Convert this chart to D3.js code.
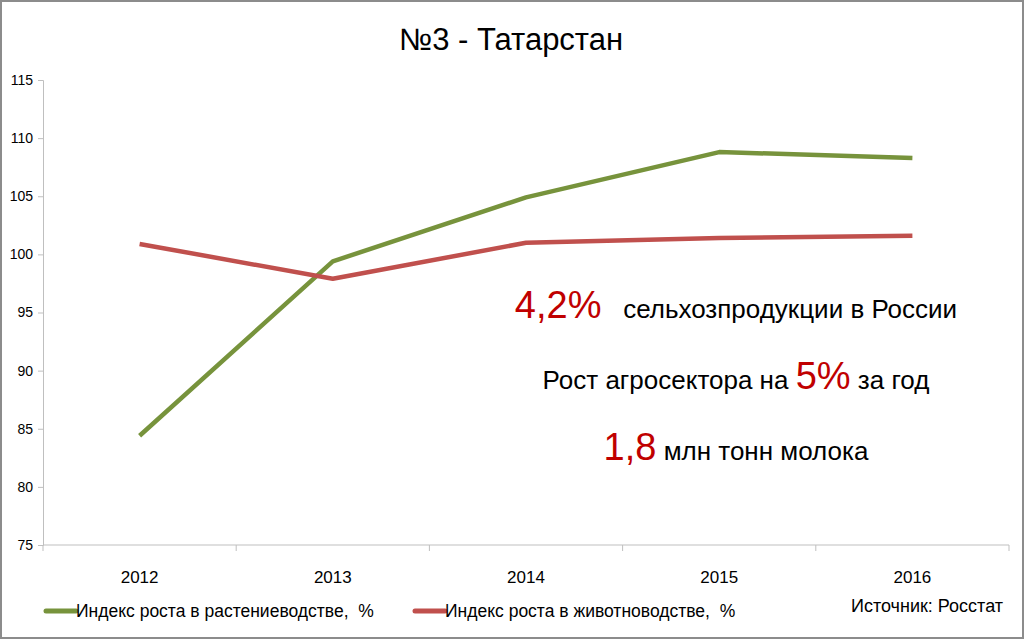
<!DOCTYPE html>
<html><head><meta charset="utf-8">
<script src="https://cdn.jsdelivr.net/npm/d3@7"></script>
<style>
html,body{margin:0;padding:0;background:#fff;}
svg{display:block;font-family:"Liberation Sans",Arial,sans-serif;}
text{white-space:pre;}
</style></head>
<body>
<svg id="chart" width="1024" height="639"></svg>
<script>
const years = ["2012","2013","2014","2015","2016"];
const plantIndex = [84.4, 99.4, 104.9, 108.8, 108.3];
const livestockIndex = [100.9, 97.9, 101.0, 101.4, 101.6];
const yTicks = [75, 80, 85, 90, 95, 100, 105, 110, 115];
const seriesNames = ["Индекс роста в растениеводстве,  %", "Индекс роста в животноводстве,  %"];
const title = "№3 - Татарстан";
const source = "Источник: Росстат";

const svg = d3.select("#chart");
const W = 1024, H = 639;
const L = 43, R = 1009, T = 80, B = 545;
const green = "#77933C", red = "#C0504D", darkRed = "#C00000";
const axisColor = "#BFBFBF";

svg.append("rect").attr("x",1).attr("y",1).attr("width",W-2).attr("height",H-2)
  .attr("fill","#fff").attr("stroke","#8c8c8c").attr("stroke-width",2);

svg.append("text").attr("x",511).attr("y",50).attr("text-anchor","middle")
  .attr("font-size",31).attr("fill","#000").text(title);

const x = d3.scaleBand().domain(years).range([L,R]).padding(0);
const y = d3.scaleLinear().domain([75,115]).range([B,T]);

// y axis
const yAxis = d3.axisLeft(y).tickValues(yTicks).tickSize(5).tickPadding(5);
const gy = svg.append("g").attr("transform",`translate(${L},0)`).call(yAxis);
gy.select(".domain").attr("stroke",axisColor);
gy.selectAll(".tick line").attr("stroke",axisColor);
gy.selectAll(".tick text").attr("font-size",14).attr("fill","#000")
  .attr("font-family","Liberation Sans, Arial, sans-serif");

// x axis
svg.append("line").attr("x1",L).attr("x2",R).attr("y1",B).attr("y2",B).attr("stroke",axisColor);
const bounds = years.map(d=>x(d)).concat([R]);
svg.selectAll(".xtick").data(bounds).enter().append("line")
  .attr("x1",d=>d).attr("x2",d=>d).attr("y1",B).attr("y2",B+6).attr("stroke",axisColor);
svg.selectAll(".xlab").data(years).enter().append("text")
  .attr("x",d=>x(d)+x.bandwidth()/2).attr("y",583).attr("text-anchor","middle")
  .attr("font-size",17).attr("fill","#000").text(d=>d);

const cx = d=>x(d)+x.bandwidth()/2;
const line = d3.line().x((d,i)=>cx(years[i])).y(d=>y(d));
svg.append("path").datum(plantIndex).attr("d",line).attr("fill","none")
  .attr("stroke",green).attr("stroke-width",4.5).attr("stroke-linejoin","round");
svg.append("path").datum(livestockIndex).attr("d",line).attr("fill","none")
  .attr("stroke",red).attr("stroke-width",4.5).attr("stroke-linejoin","round");

// legend
const legendItems = [{name:seriesNames[0],color:green,x:46},{name:seriesNames[1],color:red,x:415}];
legendItems.forEach(it=>{
  svg.append("line").attr("x1",it.x).attr("x2",it.x+30).attr("y1",611).attr("y2",611)
    .attr("stroke",it.color).attr("stroke-width",5).attr("stroke-linecap","round");
  svg.append("text").attr("x",it.x+30).attr("y",617).attr("font-size",17.5)
    .text(it.name);
});
svg.append("text").attr("x",1003).attr("y",612).attr("text-anchor","end").attr("font-size",18)
  .text(source);

// annotations
const notes = [
  {y:318, parts:[["4,2%",true],["   сельхозпродукции в России",false]]},
  {y:389, parts:[["Рост агросектора на ",false],["5%",true],[" за год",false]]},
  {y:460, parts:[["1,8",true],[" млн тонн молока",false]]}
];
notes.forEach(n=>{
  const t = svg.append("text").attr("x",736).attr("y",n.y).attr("text-anchor","middle");
  n.parts.forEach(p=>{
    t.append("tspan").text(p[0]).attr("font-size",p[1]?38:26)
      .attr("fill",p[1]?darkRed:"#000");
  });
});
</script>
</body></html>
